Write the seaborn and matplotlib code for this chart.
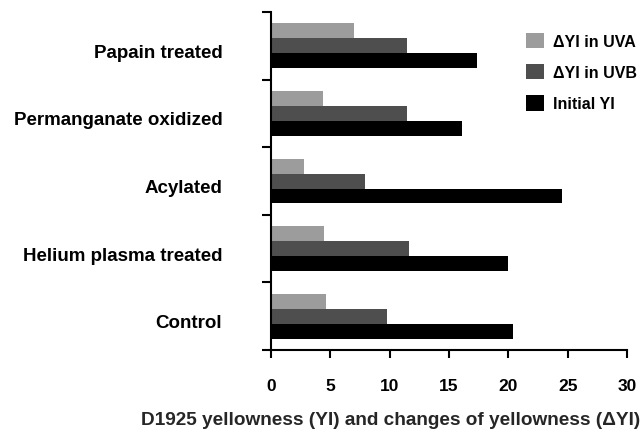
import seaborn as sns
import matplotlib.pyplot as plt
import matplotlib.transforms as mtransforms
from matplotlib.ticker import FixedLocator
import pandas as pd

# values
treatments = ['Papain treated', 'Permanganate oxidized', 'Acylated',
              'Helium plasma treated', 'Control']
delta_uva = [7.0, 4.4, 2.8, 4.5, 4.6]
delta_uvb = [11.45, 11.45, 7.95, 11.6, 9.8]
initial_yi = [17.4, 16.1, 24.5, 20.0, 20.4]
series = ['\u0394YI in UVA', '\u0394YI in UVB', 'Initial YI']
colors = ['#9c9c9c', '#4e4e4e', '#000000']

rows = []
for name, vals in zip(series, [delta_uva, delta_uvb, initial_yi]):
    for t, v in zip(treatments, vals):
        rows.append({'Treatment': t, 'Series': name, 'Value': v})
df = pd.DataFrame(rows)

sns.set_style('white')
plt.rcParams['font.family'] = ['Liberation Sans', 'DejaVu Sans']
plt.rcParams['font.weight'] = 'bold'
plt.rcParams['text.color'] = 'black'
plt.rcParams['xtick.color'] = 'black'
plt.rcParams['ytick.color'] = 'black'

fig = plt.figure(figsize=(6.4, 4.31), dpi=100)
ax = fig.add_axes([0.4234, 0.1856, 0.5563, 0.7842])

sns.barplot(data=df, x='Value', y='Treatment', hue='Series', order=treatments,
            hue_order=series, palette=colors, orient='h', width=0.665,
            saturation=1, ax=ax, linewidth=0)

ax.set_xlim(0, 30)
ax.set_ylim(4.5, -0.5)
ax.set_xticks([0, 5, 10, 15, 20, 25, 30])
ax.tick_params(axis='x', direction='out', length=6, width=1.5, pad=14,
               labelsize=12.5, bottom=True)
ax.tick_params(axis='y', which='major', length=0, pad=35, labelsize=13.5)
ax.yaxis.set_minor_locator(FixedLocator([-0.5, 0.5, 1.5, 2.5, 3.5, 4.5]))
ax.tick_params(axis='y', which='minor', direction='out', length=6.5, width=1.5, left=True)
for lab in ax.get_xticklabels() + ax.get_yticklabels():
    lab.set_fontweight('bold')

# category labels sit a little below the group centre in the original
shift = mtransforms.ScaledTranslation(0, -0.045, fig.dpi_scale_trans)
for lab in ax.get_yticklabels():
    lab.set_transform(lab.get_transform() + shift)

for side in ['top', 'right']:
    ax.spines[side].set_visible(False)
for side in ['left', 'bottom']:
    ax.spines[side].set_linewidth(1.5)
    ax.spines[side].set_color('black')

ax.set_ylabel('')
ax.set_xlabel('D1925 yellowness (YI) and changes of yellowness (\u0394YI)',
              fontsize=13.7, fontweight='bold')
ax.xaxis.set_label_coords(0.337, -0.18)

ax.legend(loc='upper left', bbox_to_anchor=(0.80, 0.955), bbox_transform=fig.transFigure,
          frameon=False, handlelength=1.1, handleheight=1.1,
          labelspacing=0.95, handletextpad=0.55, prop={'weight': 'bold', 'size': 11.5})

plt.savefig('out.png', dpi=100)
plt.close()
